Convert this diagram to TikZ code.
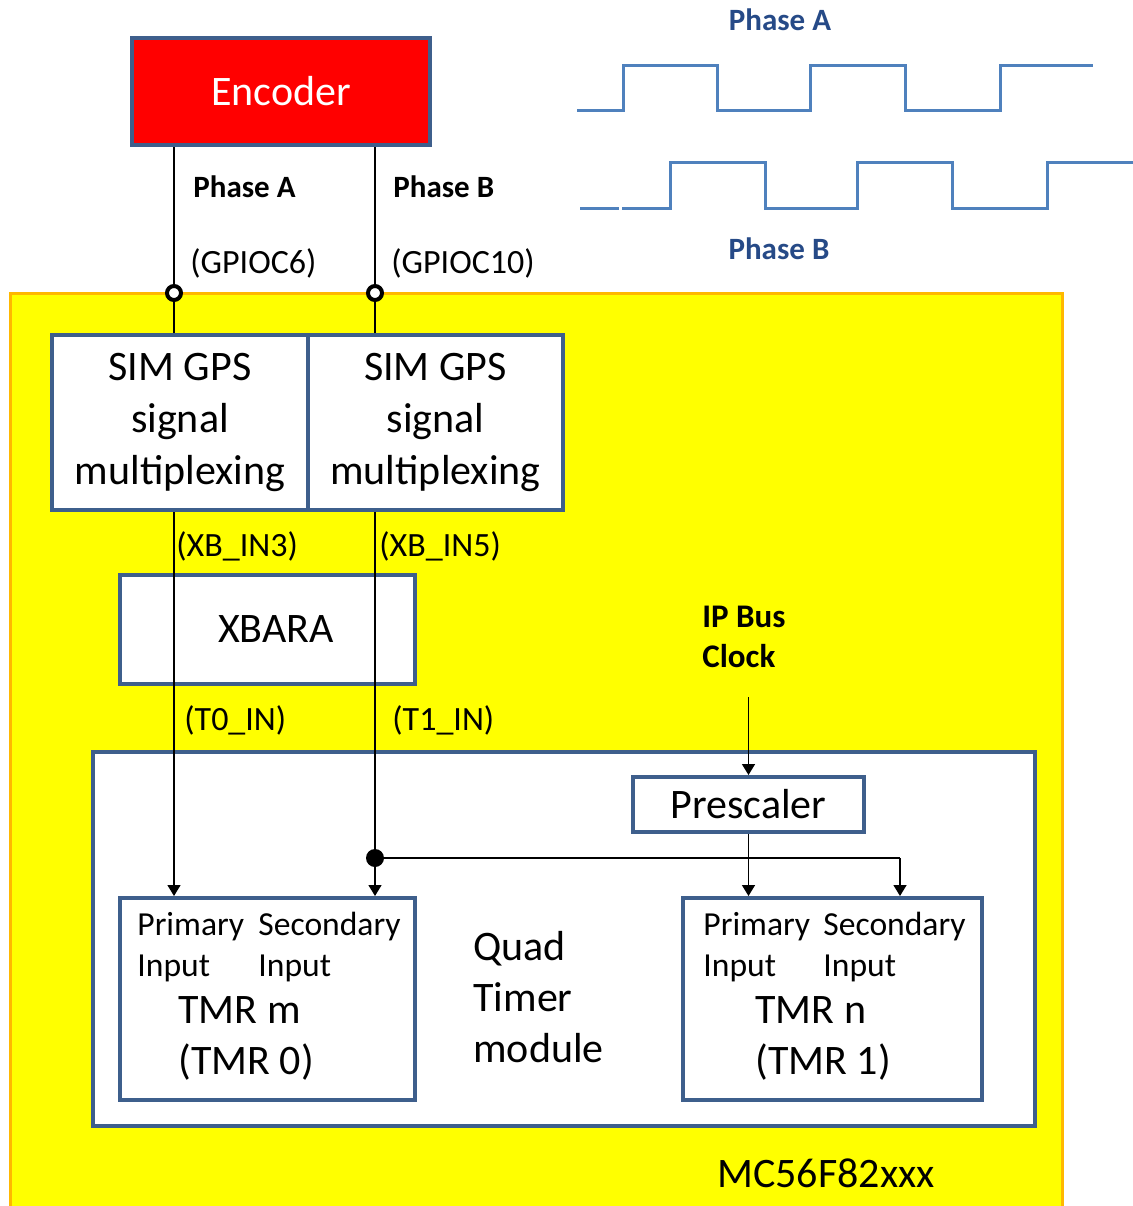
\documentclass[tikz,border=0pt]{standalone}
\usepackage{fontspec}
\setmainfont{Carlito}
\usetikzlibrary{arrows.meta}
\definecolor{boxblue}{RGB}{62,95,140}
\definecolor{wireblue}{RGB}{79,129,189}
\definecolor{wavetext}{RGB}{38,74,135}
\definecolor{encred}{RGB}{255,0,0}
\definecolor{chipyellow}{RGB}{255,255,0}
\definecolor{chiporange}{RGB}{255,184,0}
\tikzset{
  blockbox/.style={draw=boxblue, line width=2pt, fill=white, inner sep=0pt,
    align=center, font=\fontsize{21}{26}\selectfont},
  sigline/.style={line width=0.75pt},
  sigarrow/.style={sigline, -{Triangle[length=5.5pt,width=6.5pt]}},
  pinlabel/.style={anchor=west, inner sep=0pt, font=\fontsize{17}{20}\selectfont},
  phaselabel/.style={pinlabel, font=\fontsize{15.5}{18}\selectfont\bfseries},
  inlabel/.style={anchor=west, inner sep=0pt, font=\fontsize{16.8}{20}\selectfont},
  bigtext/.style={anchor=west, inner sep=0pt, align=left, font=\fontsize{21}{25.5}\selectfont},
  pin/.style={circle, draw, line width=2pt, fill=white, minimum size=7pt, inner sep=0pt},
  junction/.style={circle, fill, minimum size=9pt, inner sep=0pt},
  wave/.style={draw=wireblue, line width=1.5pt},
}
\begin{document}
\begin{tikzpicture}[x=0.5pt, y=-0.5pt]
\useasboundingbox (0,0) rectangle (1133,1206);

% microcontroller area
\draw[fill=chipyellow, draw=chiporange, line width=1.5pt] (10,293) rectangle (1062,1240);

% encoder and multiplexing
\node[blockbox, fill=encred, text=white, minimum width=149pt, minimum height=53.5pt] (enc) at (281,91.5) {Encoder};
\node[blockbox, minimum width=128pt, minimum height=87.5pt] (simA) at (180,422.5) {SIM GPS\\signal\\multiplexing};
\node[blockbox, minimum width=127.5pt, minimum height=87.5pt] (simB) at (435.5,422.5) {SIM GPS\\signal\\multiplexing};
\node[blockbox, minimum width=147.5pt, minimum height=54.5pt] (xbar) at (267.5,629.5) {\hspace*{8.5pt}XBARA};

% quad timer
\node[blockbox, minimum width=471pt, minimum height=187pt] (qtmr) at (564,939) {};
\node[blockbox, minimum width=115.5pt, minimum height=27.5pt] (pre) at (748.5,804.5) {Prescaler};
\node[blockbox, minimum width=147.5pt, minimum height=101pt] (tmrm) at (267.5,999) {};
\node[blockbox, minimum width=149.5pt, minimum height=101pt] (tmrn) at (832.5,999) {};

\node[inlabel] (primm) at (137,927) {Primary};
\node[inlabel] (secm) at (258,927) {Secondary};
\node[inlabel] (inpm) at (137,968) {Input};
\node[inlabel] (insm) at (258,968) {Input};
\node[bigtext] (namem) at (178,1038.5) {TMR m\\(TMR 0)};

\node[inlabel] (primn) at (703,927) {Primary};
\node[inlabel] (secn) at (823,927) {Secondary};
\node[inlabel] (inpn) at (703,968) {Input};
\node[inlabel] (insn) at (823,968) {Input};
\node[bigtext] (namen) at (755,1038.5) {TMR n\\(TMR 1)};

\node[bigtext] (qlabel) at (473,997) {Quad\\Timer\\module};
\node[bigtext, font=\fontsize{21}{24}\selectfont] (chip) at (717,1173) {MC56F82xxx};
\node[anchor=west, inner sep=0pt, align=left, font=\fontsize{16.5}{20}\selectfont\bfseries] (clklabel) at (702,637) {IP Bus\\Clock};

% signal paths
\coordinate (pinA) at (174,293);
\coordinate (pinB) at (375,293);
\coordinate (clk) at (748.5,697);
\coordinate (tapB) at (900,858);
\draw[sigline] (pinA |- enc.south) -- (pinA |- simA.north);
\draw[sigline] (pinB |- enc.south) -- (pinB |- simB.north);
\draw[sigarrow] (pinA |- simA.south) -- (pinA |- tmrm.north);
\draw[sigarrow] (pinB |- simB.south) -- (pinB |- tmrm.north);
\node[pin] at (pinA) {};
\node[pin] at (pinB) {};
\node[junction] (jn) at (pinB |- tapB) {};
\draw[sigline] (jn) -- (tapB);
\draw[sigarrow] (tapB) -- (tapB |- tmrn.north);
\draw[sigarrow] (clk) -- (pre.north);
\draw[sigarrow] (pre.south) -- (pre.south |- tmrn.north);

\node[phaselabel] (phA) at (193,187) {Phase A};
\node[phaselabel] (phB) at (393,187) {Phase B};
\node[pinlabel] (gpA) at (190,263) {(GPIOC6)};
\node[pinlabel] (gpB) at (391,263) {(GPIOC10)};
\node[pinlabel] (xbA) at (176,546) {(XB\_IN3)};
\node[pinlabel] (xbB) at (379,546) {(XB\_IN5)};
\node[pinlabel] (tA) at (184,720) {(T0\_IN)};
\node[pinlabel] (tB) at (392,720) {(T1\_IN)};

% waveforms
\draw[wave] (577,110) -- (623,110) -- (623,65) -- (717,65) -- (717,110) -- (810,110) -- (810,65)
  -- (905,65) -- (905,110) -- (1000,110) -- (1000,65) -- (1093,65);
\draw[wave] (580,208) -- (619,208);
\draw[wave] (622,208) -- (670,208) -- (670,162) -- (765,162) -- (765,208) -- (857,208) -- (857,162)
  -- (952,162) -- (952,208) -- (1047,208) -- (1047,162) -- (1140,162);
\node[inner sep=0pt, text=wavetext, font=\fontsize{15.5}{18}\selectfont\bfseries] (waveA) at (780,20) {Phase A};
\node[inner sep=0pt, text=wavetext, font=\fontsize{15.5}{18}\selectfont\bfseries] (waveB) at (779,249) {Phase B};
\end{tikzpicture}
\end{document}
